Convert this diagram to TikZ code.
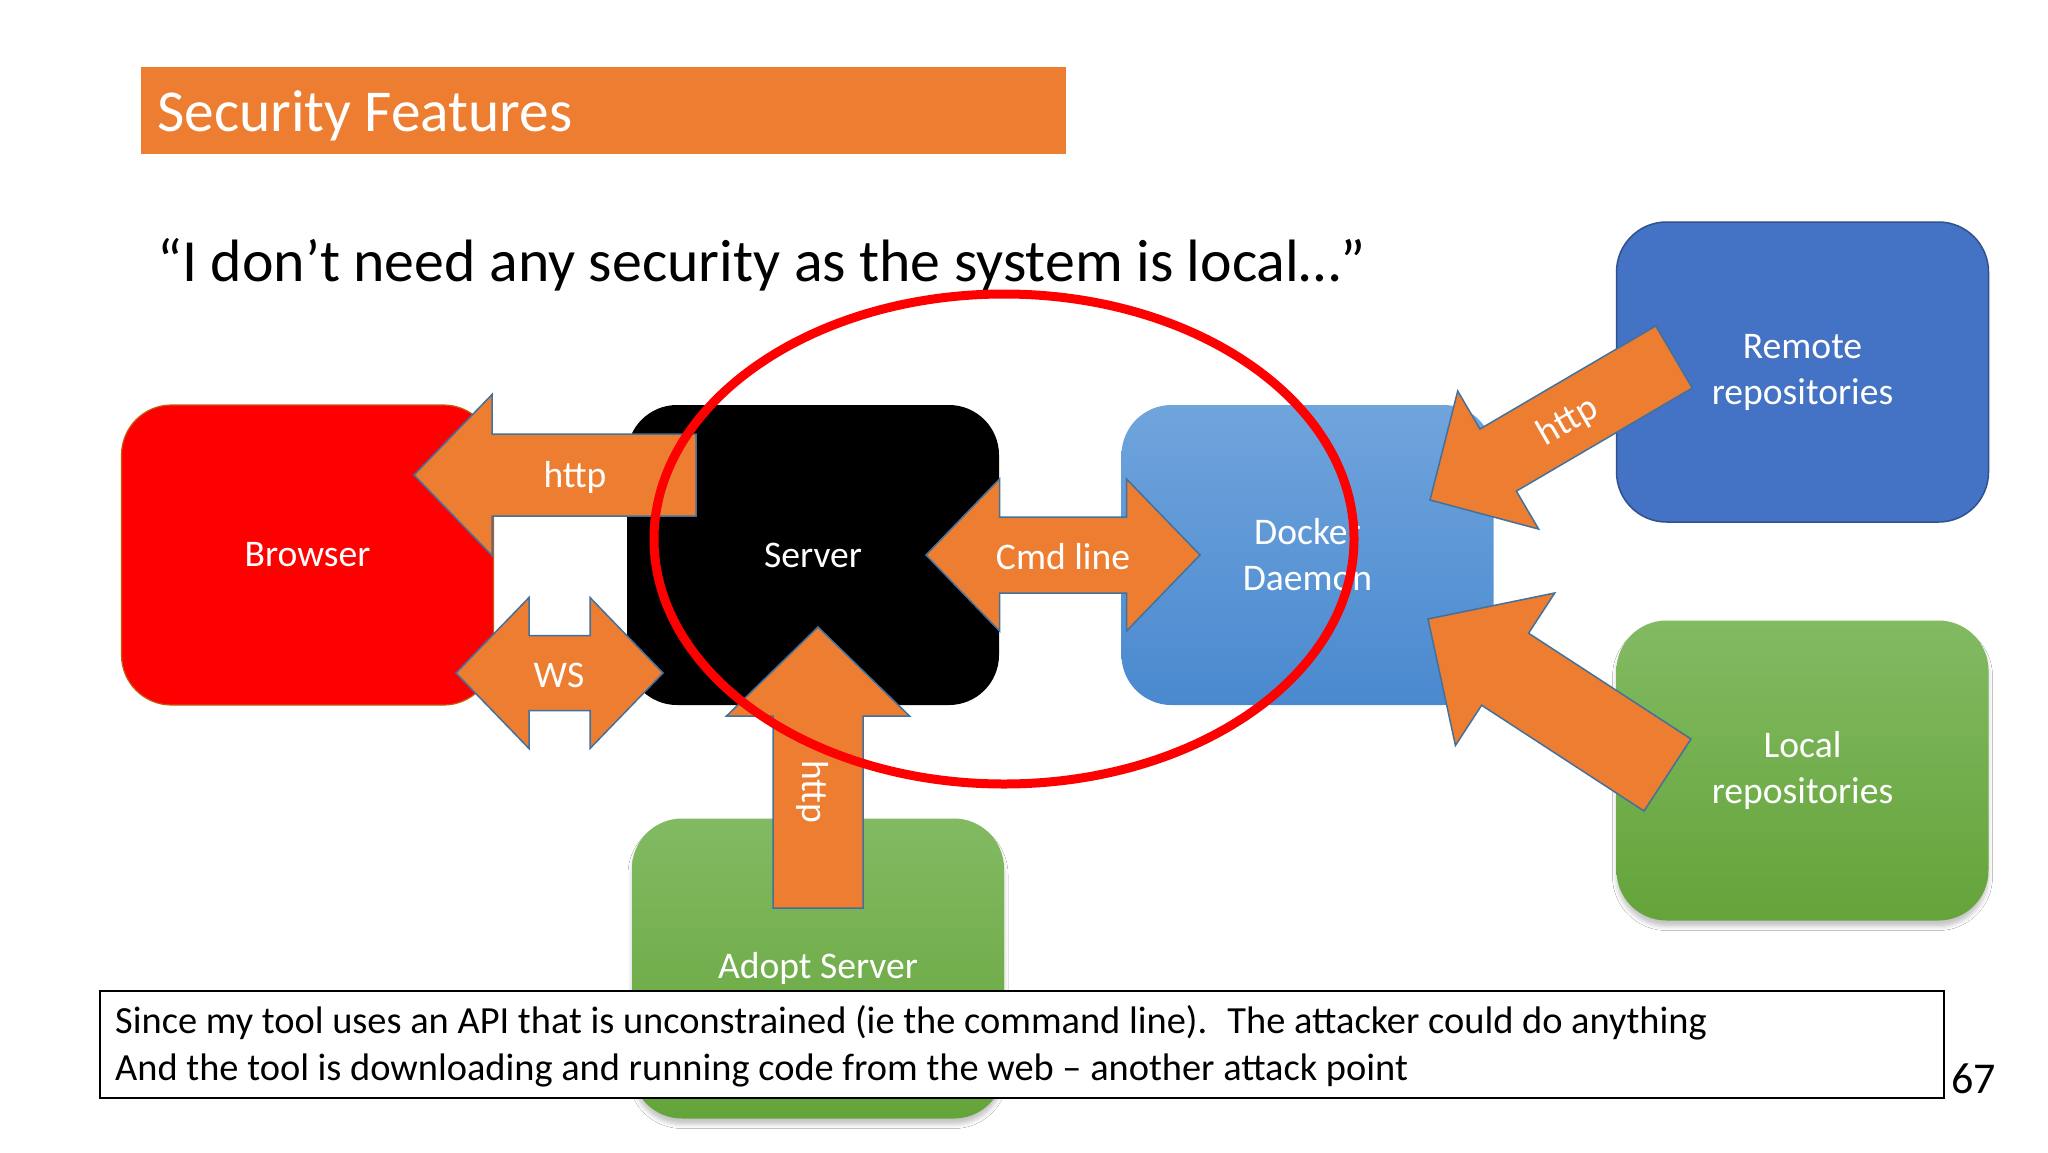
\documentclass[tikz,border=0pt]{standalone}
\usepackage{fontspec}
\setmainfont{Carlito}
\usetikzlibrary{calc,shadows.blur}
\definecolor{orangeA}{HTML}{ED7D31}
\definecolor{arrowline}{HTML}{41719C}
\definecolor{redbox}{HTML}{FF0000}
\definecolor{redborder}{HTML}{C55A11}
\definecolor{dockertop}{HTML}{70A4DC}
\definecolor{dockerbot}{HTML}{4A89CF}
\definecolor{remotefill}{HTML}{4472C4}
\definecolor{remoteline}{HTML}{2F528F}
\definecolor{greentop}{HTML}{82BA62}
\definecolor{greenbot}{HTML}{64A43A}
\definecolor{ellred}{HTML}{FF0000}
\tikzset{
  box/.style={rounded corners=50pt, minimum width=372pt, minimum height=300pt,
    text=white, font=\fontsize{37.6}{46}\selectfont, align=center, inner sep=0pt},
  greenbox/.style={box, top color=greentop, bottom color=greenbot,
    blur shadow={shadow xshift=0pt, shadow yshift=-6pt, shadow opacity=22, shadow blur radius=4pt}},
  arrowshape/.style={fill=orangeA, draw=arrowline, line width=1.5pt, line join=miter},
  lbl/.style={text=white, font=\fontsize{37.6}{46}\selectfont, inner sep=0pt},
}
% #1 name, #2 tail, #3 tip, #4 half shaft, #5 half head, #6 head length
\newcommand\blockarrow[6]{%
  \coordinate (#1h) at ($(#3)!#6!(#2)$);
  \draw[arrowshape] ($(#2)!#4!90:(#3)$) -- ($(#1h)!#4!90:(#3)$) -- ($(#1h)!#5!90:(#3)$)
    -- (#3) -- ($(#1h)!#5!-90:(#3)$) -- ($(#1h)!#4!-90:(#3)$) -- ($(#2)!#4!-90:(#3)$) -- cycle;}
% #1 name, #2 tipA, #3 tipB, #4 half shaft, #5 half head, #6 head length
\newcommand\dblarrow[6]{%
  \coordinate (#1ha) at ($(#2)!#6!(#3)$);
  \coordinate (#1hb) at ($(#3)!#6!(#2)$);
  \draw[arrowshape] (#2) -- ($(#1ha)!#5!-90:(#2)$) -- ($(#1ha)!#4!-90:(#2)$)
    -- ($(#1hb)!#4!90:(#3)$) -- ($(#1hb)!#5!90:(#3)$) -- (#3)
    -- ($(#1hb)!#5!-90:(#3)$) -- ($(#1hb)!#4!-90:(#3)$)
    -- ($(#1ha)!#4!90:(#2)$) -- ($(#1ha)!#5!90:(#2)$) -- cycle;}
\begin{document}
\begin{tikzpicture}[x=1pt, y=-1pt]
\fill[white] (0,0) rectangle (2048,1152);
\useasboundingbox (0,0) rectangle (2048,1152);

% title
\node[fill=orangeA, minimum width=925pt, minimum height=87pt, anchor=north west, inner sep=0pt] (titlebar) at (141,67) {};
\node[anchor=base west, text=white, font=\fontsize{59.4}{70}\selectfont, inner sep=0pt] (title) at (157,131) {Security Features};
\node[anchor=base west, font=\fontsize{59.8}{72}\selectfont, inner sep=0pt] (quote) at (157,281) {“I don’t need any security as the system is local…”};

% boxes
\node[box, fill=redbox, draw=redborder, line width=1.2pt] (browser) at (307.5,555) {Browser};
\node[box, fill=black] (server) at (813,555) {Server};
\node[box, top color=dockertop, bottom color=dockerbot] (docker) at (1307.5,555) {Docker\\Daemon};
\node[box, fill=remotefill, draw=remoteline, line width=1.5pt] (remote) at (1802.5,372) {Remote\\repositories};
\node[greenbox] (local) at (1802.5,770.5) {Local\\repositories};
\node[greenbox] (adopt) at (818,968.5) {Adopt Server};

% arrow end points
\coordinate (a1tail) at (696,475);  \coordinate (a1tip) at (414,475);
\coordinate (a2l) at (456,673);     \coordinate (a2r) at (663,673);
\coordinate (a3l) at (926,555);     \coordinate (a3r) at (1200,555);
\coordinate (a4tail) at (818,908);  \coordinate (a4tip) at (818,627);
\coordinate (a5tail) at (1674,357); \coordinate (a5tip) at (1430,500);
\coordinate (a6tail) at (1667.5,775); \coordinate (a6tip) at (1428,619);

\blockarrow{a1}{a1tail}{a1tip}{41pt}{80.5pt}{78pt}
\dblarrow{a2}{a2l}{a2r}{37.5pt}{75.5pt}{73pt}
\dblarrow{a3}{a3l}{a3r}{38pt}{76pt}{73.5pt}
\blockarrow{a4}{a4tail}{a4tip}{45pt}{91.5pt}{89pt}
\blockarrow{a5}{a5tail}{a5tip}{36pt}{80pt}{79pt}
\blockarrow{a6}{a6tail}{a6tip}{43pt}{91pt}{92pt}

% arrow labels
\node[lbl] (l1) at (575,477) {http};
\node[lbl] (l2) at (559,675) {WS};
\node[lbl] (l3) at (1063,557) {Cmd line};
\node[lbl, rotate=-90] (l4) at (813,792) {http};
\node[lbl, rotate=30] (l5) at (1568,422) {http};

% red ellipse
\draw[ellred, line width=9pt] (1004,539) ellipse [x radius=350, y radius=245];

% page number and note
\node[anchor=base west, font=\fontsize{44}{53}\selectfont, inner sep=0pt] (pagenum) at (1951,1093) {67};
\node[draw=black, line width=1.5pt, fill=white, anchor=north west, minimum width=1844pt, minimum height=107pt, inner sep=0pt] (note) at (99,990) {};
\node[anchor=west, align=left, font=\fontsize{38.4}{46.5}\selectfont, inner sep=0pt] (notetext) at ($(note.west)+(16,2)$)
  {Since my tool uses an API that is unconstrained (ie the command line).~ The attacker could do anything\\
   And the tool is downloading and running code from the web – another attack point};
\end{tikzpicture}
\end{document}
